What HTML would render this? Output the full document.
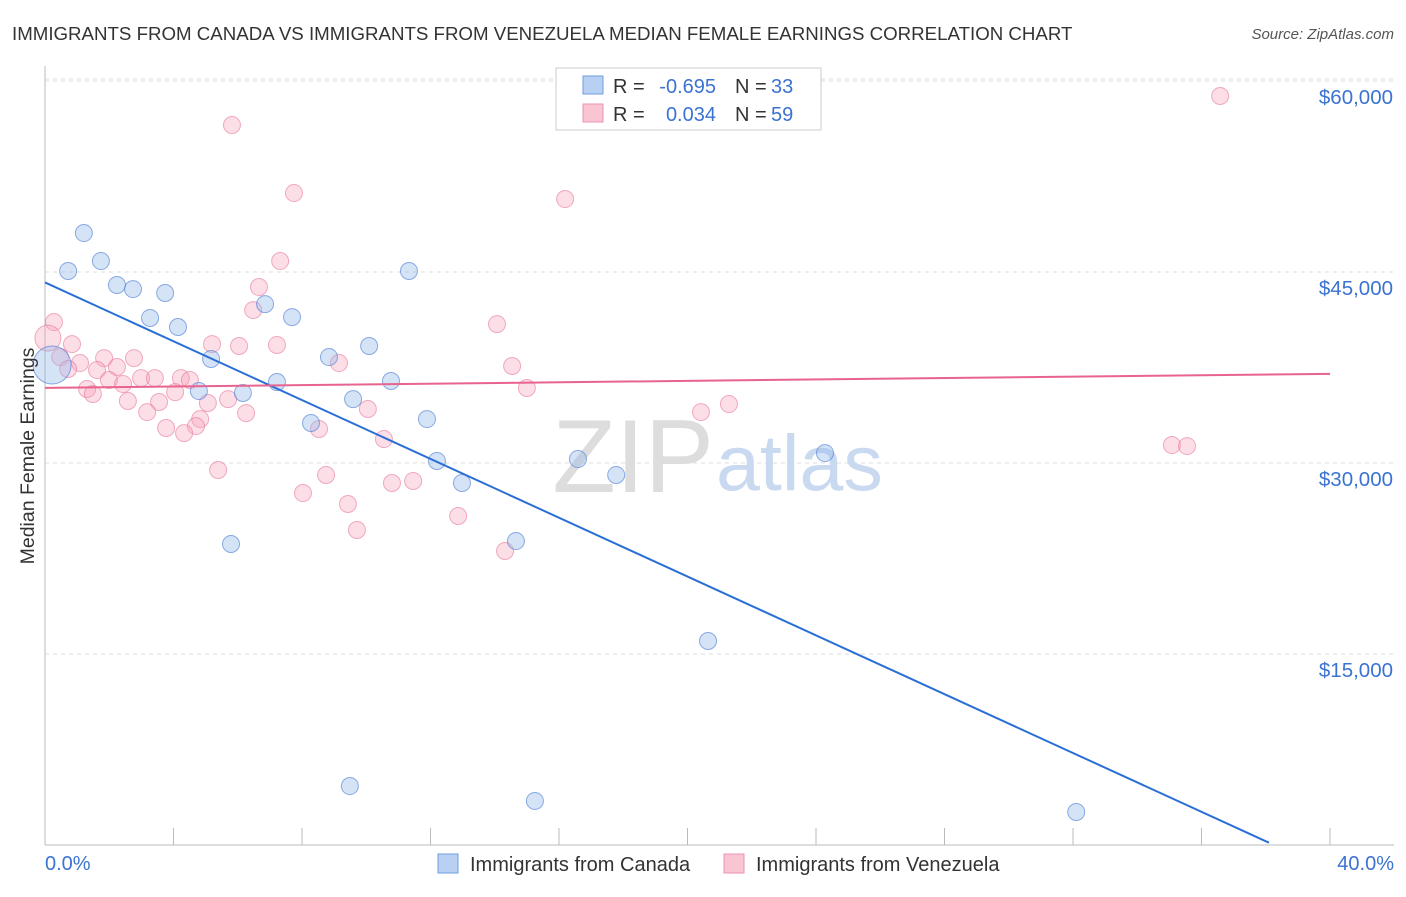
<!DOCTYPE html>
<html><head><meta charset="utf-8"><style>
body{margin:0;background:#fff;font-family:"Liberation Sans",sans-serif;}
svg text{font-family:"Liberation Sans",sans-serif;}
</style></head><body>
<svg width="1406" height="892" xmlns="http://www.w3.org/2000/svg">
<text x="12" y="40" font-size="18.7" fill="#333">IMMIGRANTS FROM CANADA VS IMMIGRANTS FROM VENEZUELA MEDIAN FEMALE EARNINGS CORRELATION CHART</text>
<text x="1394" y="39" font-size="15" fill="#555" font-style="italic" text-anchor="end">Source: ZipAtlas.com</text>
<g id="grid"></g>
<text x="714" y="492" font-size="104" fill="#ddd" text-anchor="end" font-family="Liberation Serif">ZIP</text>
<text x="716" y="490" font-size="79" fill="#c9d9ef">atlas</text>
<g id="pts"></g>
<g id="lines"></g>
<text x="34" y="456" font-size="19.5" fill="#333" text-anchor="middle" transform="rotate(-90 34 456)">Median Female Earnings</text>
<text x="45" y="870" font-size="20" fill="#3b73d1">0.0%</text>
<text x="1394" y="870" font-size="20" fill="#3b73d1" text-anchor="end">40.0%</text>
<g>
<rect x="556" y="68" width="265" height="62" fill="#fff" stroke="#ccc"/>
<rect x="583" y="76" width="20" height="18" fill="#b8d0f2" stroke="#6f9ee0"/>
<rect x="583" y="104" width="20" height="18" fill="#f9c5d3" stroke="#ec93ad"/>
<text x="613" y="93" font-size="20" fill="#333">R =</text>
<text x="716" y="93" font-size="20" fill="#3b73d1" text-anchor="end">-0.695</text>
<text x="735" y="93" font-size="20" fill="#333">N =</text>
<text x="771" y="93" font-size="20" fill="#3b73d1">33</text>
<text x="613" y="121" font-size="20" fill="#333">R =</text>
<text x="716" y="121" font-size="20" fill="#3b73d1" text-anchor="end">0.034</text>
<text x="735" y="121" font-size="20" fill="#333">N =</text>
<text x="771" y="121" font-size="20" fill="#3b73d1">59</text>
</g>
<g><rect x="438" y="854" width="20" height="19" fill="#b8d0f2" stroke="#6f9ee0"/><text x="470" y="871" font-size="20" fill="#333">Immigrants from Canada</text></g>
<g><rect x="724" y="854" width="20" height="19" fill="#f9c5d3" stroke="#ec93ad"/><text x="756" y="871" font-size="20" fill="#333">Immigrants from Venezuela</text></g>
</svg>
<script>
const yTicks=[15000,30000,45000,60000];
const yTickLabels=["$15,000","$30,000","$45,000","$60,000"];
const canadaX=[0.22,1.21,0.72,1.74,2.24,2.74,3.74,3.27,4.14,6.85,7.69,11.33,5.17,8.84,10.09,4.79,6.16,7.22,10.77,8.28,9.59,11.89,12.20,12.98,16.59,17.78,24.28,5.79,14.66,20.64,9.49,15.25,32.10];
const canadaY=[37700,48060,45080,45860,43980,43660,43350,41390,40680,42480,41460,45080,38170,38320,39190,35650,35500,36360,36440,33140,35020,33450,30160,28430,30310,29060,30780,23640,23870,16020,4630,3460,2590];
const venX=[36.58,5.82,7.75,16.19,7.32,6.66,6.48,0.28,14.07,0.84,5.20,6.04,7.22,0.09,0.47,1.84,2.77,1.09,9.15,14.54,2.24,1.62,0.72,1.99,2.43,2.99,3.42,4.23,4.51,1.31,1.49,4.05,15.00,2.58,3.55,5.07,5.70,3.18,6.26,10.05,20.42,21.29,4.83,3.77,4.70,4.33,8.53,10.55,35.08,35.55,5.39,8.75,10.80,11.46,8.03,9.43,12.86,9.71,14.32];
const venY=[58820,56540,51200,50730,45860,43820,42010,41070,40910,39340,39340,39190,39270,39810,38320,38240,38240,37850,37850,37620,37540,37300,37380,36520,36200,36670,36670,36670,36520,35810,35420,35570,35890,34870,34790,34710,35020,34000,33920,34240,34000,34630,33450,32750,32900,32350,32670,31880,31410,31330,29450,29060,28430,28590,27640,26780,25840,24740,23090];
const canadaTrend=[[0,44180],[38.1,180]];
const venTrend=[[0,35900],[40,37000]];
const NS="http://www.w3.org/2000/svg";
const sx=v=>45+v/40*1285, sy=v=>845-v/15000*191;
function mk(t,a,p){const e=document.createElementNS(NS,t);for(const k in a)e.setAttribute(k,a[k]);p.appendChild(e);return e;}
const grid=document.getElementById('grid');
const ax=mk('line',{x1:45,y1:66,x2:45,y2:845,stroke:'#bbb'},grid);


const bx=mk('line',{x1:45,y1:845,x2:1394,y2:845,stroke:'#bbb'},grid);


for(let i=0;i<=10;i++){const t=mk('line',{x1:sx(i*4),y1:828,x2:sx(i*4),y2:845,stroke:'#bbb'},grid);

}
mk('line',{x1:45,y1:79,x2:1394,y2:79,stroke:'#ddd','stroke-dasharray':'4 4'},grid);
yTicks.forEach((v,i)=>{const g=mk('line',{x1:45,y1:sy(v),x2:1394,y2:sy(v),stroke:'#ddd','stroke-dasharray':'4 4'},grid);


const t=mk('text',{x:1393,y:sy(v)+23,'font-size':20.5,fill:'#3b73d1','text-anchor':'end'},grid);t.textContent=yTickLabels[i];

});
const pts=document.getElementById('pts');
venX.forEach((x,i)=>{const r=i===13?13:8.5;const c=mk('circle',{cx:sx(x),cy:sy(venY[i]),r:r,fill:'rgba(246,160,185,0.35)',stroke:'rgba(232,120,155,0.6)','stroke-width':1},pts);

});
canadaX.forEach((x,i)=>{const r=i===0?19:8.5;const c=mk('circle',{cx:sx(x),cy:sy(canadaY[i]),r:r,fill:'rgba(150,185,235,0.4)',stroke:'rgba(70,120,210,0.6)','stroke-width':1},pts);

});
const lines=document.getElementById('lines');
const l1=mk('line',{x1:sx(canadaTrend[0][0]),y1:sy(canadaTrend[0][1]),x2:sx(canadaTrend[1][0]),y2:sy(canadaTrend[1][1]),stroke:'#2a6fd6','stroke-width':2},lines);


const l2=mk('line',{x1:sx(venTrend[0][0]),y1:sy(venTrend[0][1]),x2:sx(venTrend[1][0]),y2:sy(venTrend[1][1]),stroke:'#e8638e','stroke-width':2},lines);


</script>
</body></html>
